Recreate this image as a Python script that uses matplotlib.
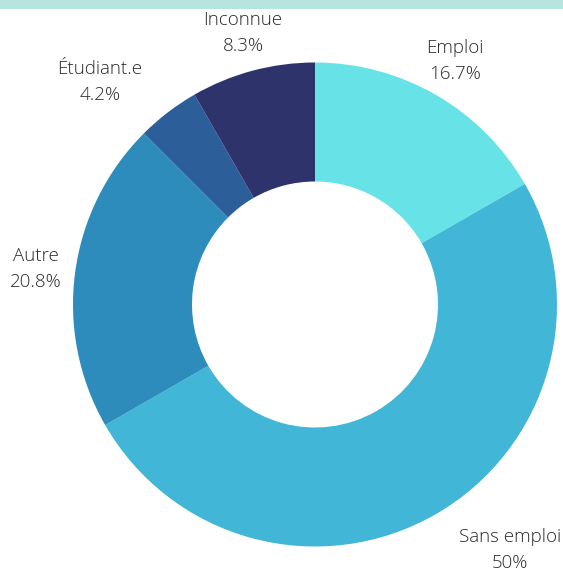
import matplotlib.pyplot as plt
from matplotlib.patches import Rectangle

# donnees
labels = ['Emploi', 'Sans emploi', 'Autre', 'Étudiant.e', 'Inconnue']
pcts = [16.7, 50, 20.8, 4.2, 8.3]
pct_text = ['16.7%', '50%', '20.8%', '4.2%', '8.3%']
colors = ['#67e3e8', '#41b6d6', '#2d8cbb', '#2c5f9a', '#2f336b']

# position des etiquettes (pixels)
label_xy = [(455, 61), (510, 550), (36, 269), (100, 82), (243, 33)]

fig = plt.figure(figsize=(5.63, 5.74), dpi=100)
ax = fig.add_axes([0, 0, 1, 1])

# bande en haut
ax.add_patch(Rectangle((0, 0), 563, 8.5, color='#b7e5dd', lw=0))

# axe y inverse : startangle=-90 = en haut, counterclock=True = sens horaire a l'ecran
ax.pie(pcts, colors=colors, center=(315, 304.5), radius=242,
       startangle=-90, counterclock=True,
       wedgeprops=dict(width=119, edgecolor='none', linewidth=0),
       frame=True)
ax.set_xlim(0, 563)
ax.set_ylim(574, 0)
ax.set_aspect('equal')
ax.axis('off')

for (x, y), lab, p in zip(label_xy, labels, pct_text):
    ax.text(x, y, lab + '\n' + p, ha='center', va='center', fontsize=13.5,
            family='Open Sans', fontweight='light', color='#2a2a2a',
            linespacing=1.55)

fig.savefig('out.png', dpi=100)
